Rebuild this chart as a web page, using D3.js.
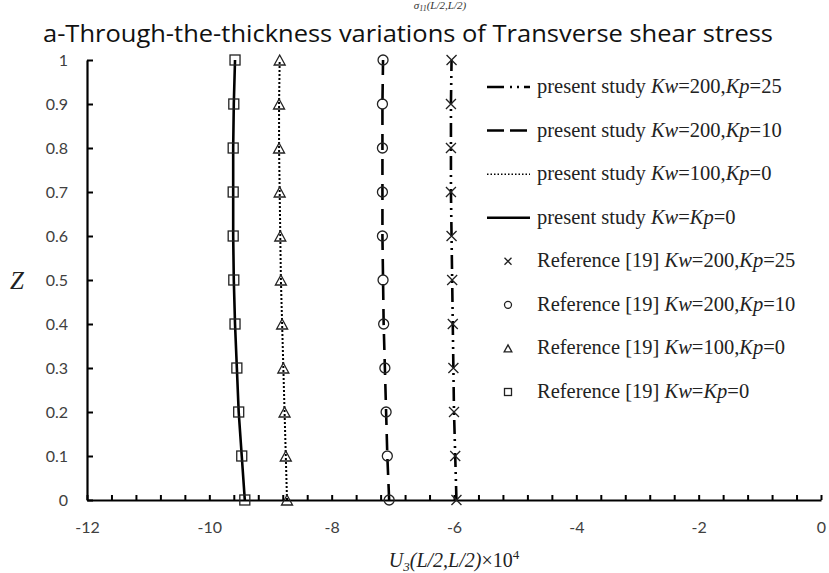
<!DOCTYPE html>
<html>
<head>
<meta charset="utf-8">
<script src="https://cdn.jsdelivr.net/npm/d3@7"></script>
<style>
  body { margin: 0; background: #fff; }
  svg { display: block; }
  .tick text { font-family: Lato, "Open Sans", sans-serif; font-size: 16px; fill: #404040; }
</style>
</head>
<body>
<svg id="chart" width="829" height="573"></svg>
<script>
// Z through the thickness
var zValues = [0, 0.1, 0.2, 0.3, 0.4, 0.5, 0.6, 0.7, 0.8, 0.9, 1];

// present study curves (U3 x 10^4)
var present_200_25 = [-5.96, -5.98, -6.00, -6.01, -6.02, -6.03, -6.04, -6.05, -6.05, -6.05, -6.04];
var present_200_10 = [-7.06, -7.09, -7.11, -7.13, -7.15, -7.16, -7.17, -7.17, -7.17, -7.17, -7.16];
var present_100_0  = [-8.73, -8.75, -8.77, -8.79, -8.81, -8.83, -8.84, -8.85, -8.86, -8.86, -8.85];
var present_0_0    = [-9.42, -9.47, -9.52, -9.55, -9.58, -9.60, -9.61, -9.61, -9.61, -9.60, -9.58];

// Reference [19] points
var ref_200_25 = [-5.96, -5.98, -6.00, -6.01, -6.02, -6.03, -6.04, -6.05, -6.05, -6.05, -6.04];
var ref_200_10 = [-7.06, -7.09, -7.11, -7.13, -7.15, -7.16, -7.17, -7.17, -7.17, -7.17, -7.16];
var ref_100_0  = [-8.73, -8.75, -8.77, -8.79, -8.81, -8.83, -8.84, -8.85, -8.86, -8.86, -8.85];
var ref_0_0    = [-9.42, -9.47, -9.52, -9.55, -9.58, -9.60, -9.61, -9.61, -9.61, -9.60, -9.58];

var xTickLabels = [-12, -10, -8, -6, -4, -2, 0];
var yTickLabels = ["0", "0.1", "0.2", "0.3", "0.4", "0.5", "0.6", "0.7", "0.8", "0.9", "1"];

var lineLabels = [
  {kw: "200,", kp: "=25", vals: present_200_25, dash: "14,5,2,5,2,5"},
  {kw: "200,", kp: "=10", vals: present_200_10, dash: "16,9"},
  {kw: "100,", kp: "=0",  vals: present_100_0,  dash: "2,2"},
  {kw: "", kp: "=0",      vals: present_0_0,    dash: null}
];
var pointLabels = [
  {kw: "200,", kp: "=25", vals: ref_200_25, sym: "x"},
  {kw: "200,", kp: "=10", vals: ref_200_10, sym: "circle"},
  {kw: "100,", kp: "=0",  vals: ref_100_0,  sym: "triangle"},
  {kw: "", kp: "=0",      vals: ref_0_0,    sym: "square"}
];

var svg = d3.select("#chart");
var x = d3.scaleLinear().domain([-12, 0]).range([87, 821]);
var y = d3.scaleLinear().domain([0, 1]).range([500, 60]);

// caption left over from above
var cap = svg.append("text").attr("x", 440).attr("y", 9)
  .attr("text-anchor", "middle")
  .style("font-family", "'Liberation Serif', serif").style("font-style", "italic").style("font-size", "11px").style("fill", "#333");
cap.append("tspan").text("σ");
cap.append("tspan").attr("dy", 2).style("font-size", "8px").text("11");
cap.append("tspan").attr("dy", -2).text("(L/2,L/2)");

// title
svg.append("text").attr("x", 408).attr("y", 42)
  .attr("text-anchor", "middle")
  .attr("textLength", 730).attr("lengthAdjust", "spacingAndGlyphs")
  .style("font-family", "'Open Sans', sans-serif").style("font-size", "24px").style("fill", "#111")
  .text("a-Through-the-thickness variations of Transverse shear stress");

// axes
var xTicks = d3.range(0, 31).map(function(i) { return -12 + i * 0.4; });
var xAxis = d3.axisBottom(x).tickValues(xTicks).tickSizeInner(-5).tickSizeOuter(0).tickPadding(22)
  .tickFormat(function(d) {
    var r = Math.round(d);
    return (Math.abs(d - r) < 1e-6 && xTickLabels.indexOf(r) >= 0) ? String(r) : "";
  });
svg.append("g").attr("transform", "translate(0," + y(0) + ")").call(xAxis);

var yAxis = d3.axisLeft(y).tickValues(zValues).tickSizeInner(-6).tickSizeOuter(0).tickPadding(19)
  .tickFormat(function(d, i) { return yTickLabels[i]; });
svg.append("g").attr("transform", "translate(" + x(-12) + ",0)").call(yAxis);

svg.selectAll(".domain").attr("stroke", "#000").attr("stroke-width", 2.2);
svg.selectAll(".tick line").attr("stroke", "#000").attr("stroke-width", 2);

// axis titles
svg.append("text").attr("x", 17).attr("y", 289)
  .attr("text-anchor", "middle")
  .style("font-family", "'Liberation Serif', serif").style("font-style", "italic").style("font-size", "25px").style("fill", "#222")
  .text("Z");

var xt = svg.append("text").attr("x", 454).attr("y", 567)
  .attr("text-anchor", "middle")
  .style("font-family", "'Liberation Serif', serif").style("font-style", "italic").style("font-size", "20px").style("fill", "#222");
xt.append("tspan").text("U");
xt.append("tspan").attr("dy", 4).style("font-size", "13px").text("3");
xt.append("tspan").attr("dy", -4).text("(L/2,L/2)");
xt.append("tspan").style("font-style", "normal").text("×10");
xt.append("tspan").attr("dy", -8).style("font-style", "normal").style("font-size", "13px").text("4");

// lines
var line = d3.line()
  .x(function(d) { return x(d[0]); })
  .y(function(d) { return y(d[1]); });

lineLabels.forEach(function(s) {
  svg.append("path")
    .datum(s.vals.map(function(v, i) { return [v, zValues[i]]; }))
    .attr("d", line)
    .attr("fill", "none").attr("stroke", "#000")
    .attr("stroke-width", s.dash === "2,2" ? 2 : 2.6)
    .attr("stroke-dasharray", s.dash);
});

// markers
function drawSym(g, sym, size) {
  var h = size / 2;
  if (sym === "square") {
    g.append("rect").attr("x", -h).attr("y", -h).attr("width", size).attr("height", size);
  } else if (sym === "circle") {
    g.append("circle").attr("r", h);
  } else if (sym === "triangle") {
    g.append("path").attr("d", "M0," + (-h) + "L" + (h * 1.1) + "," + h + "L" + (-h * 1.1) + "," + h + "Z");
  } else {
    g.append("path").attr("d", "M" + (-h) + "," + (-h) + "L" + h + "," + h + "M" + (-h) + "," + h + "L" + h + "," + (-h));
  }
  g.attr("fill", "none").attr("stroke", "#222").attr("stroke-width", 1.3);
}

pointLabels.forEach(function(s) {
  svg.append("g").selectAll("g")
    .data(s.vals.map(function(v, i) { return [v, zValues[i]]; }))
    .enter().append("g")
    .attr("transform", function(d) { return "translate(" + x(d[0]) + "," + y(d[1]) + ")"; })
    .each(function() { drawSym(d3.select(this), s.sym, 10); });
});

// legend
function legendText(t, prefix, s) {
  t.style("font-family", "'Liberation Serif', serif").style("font-size", "20.5px").style("fill", "#222");
  t.append("tspan").text(prefix);
  t.append("tspan").style("font-style", "italic").text("Kw");
  t.append("tspan").text("=" + s.kw);
  t.append("tspan").style("font-style", "italic").text("Kp");
  t.append("tspan").text(s.kp);
}

var legY = d3.scaleLinear().domain([0, 7]).range([87, 392]);
lineLabels.forEach(function(s, i) {
  var yy = legY(i);
  svg.append("line").attr("x1", 487).attr("x2", 530).attr("y1", yy).attr("y2", yy)
    .attr("stroke", "#000").attr("stroke-width", s.dash === "2,2" ? 1.5 : 2.5)
    .attr("stroke-dasharray", s.dash === null ? null : (s.dash === "2,2" ? "1.5,2" : (s.dash === "16,9" ? "17,6" : "17,6,2,5,2,5")));
  legendText(svg.append("text").attr("x", 537).attr("y", yy + 6), "present study ", s);
});
pointLabels.forEach(function(s, i) {
  var yy = legY(i + 4);
  var g = svg.append("g").attr("transform", "translate(508," + yy + ")");
  drawSym(g, s.sym, 7);
  legendText(svg.append("text").attr("x", 537).attr("y", yy + 6), "Reference [19] ", s);
});
</script>
</body>
</html>
